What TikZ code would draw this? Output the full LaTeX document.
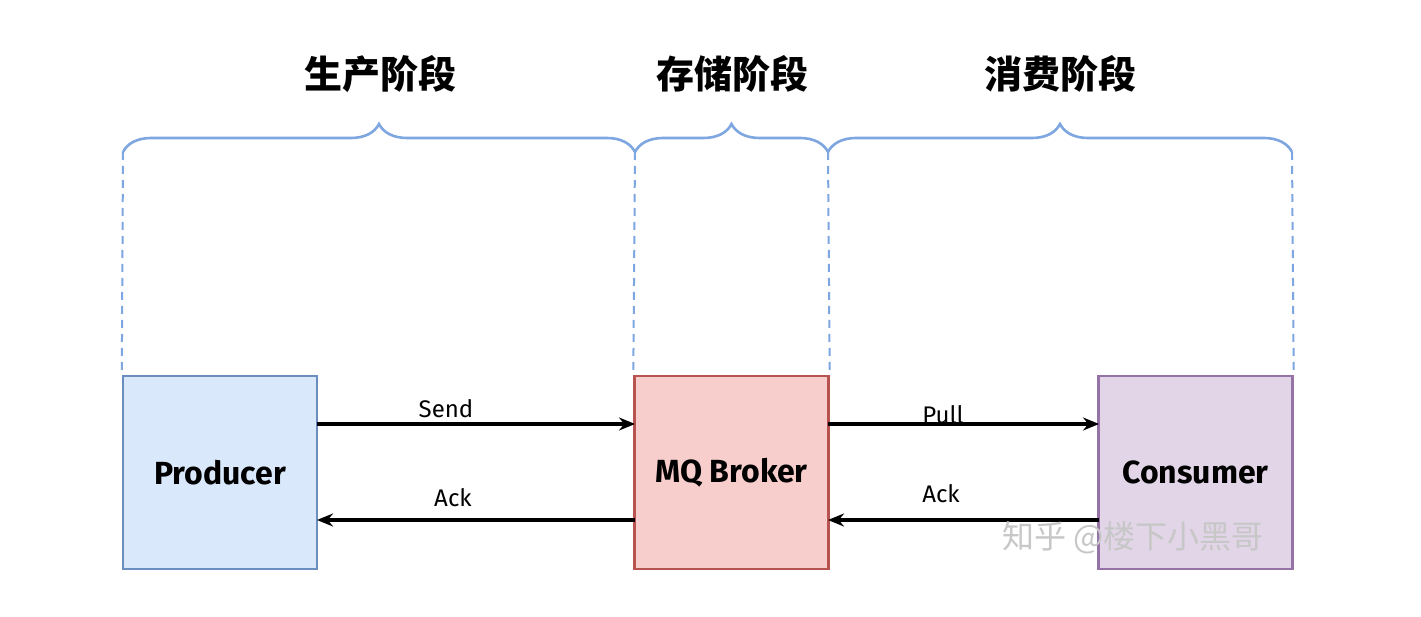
\documentclass[tikz,border=0pt]{standalone}
\usepackage{fontspec}
\setmainfont{Fira Sans}
\newfontfamily\cjk{Noto Sans CJK SC}
\usetikzlibrary{decorations.pathreplacing,arrows.meta}
\definecolor{bracec}{HTML}{7EA6E0}
\definecolor{pfill}{HTML}{DAE8FC}\definecolor{pline}{HTML}{6C8EBF}
\definecolor{bfill}{HTML}{F8CECC}\definecolor{bline}{HTML}{B85450}
\definecolor{cfill}{HTML}{E1D5E7}\definecolor{cline}{HTML}{9673A6}
\tikzset{
  boxn/.style={draw, line width=2.4pt, minimum width=194pt, minimum height=193pt, inner sep=0pt, font=\bfseries\fontsize{32}{34}\selectfont},
  bracen/.style={decorate, decoration={brace, amplitude=28pt}, draw=bracec, line width=2.6pt},
  guide/.style={draw=bracec, line width=2pt, dash pattern=on 8pt off 6pt},
  flow/.style={draw=black, line width=3.4pt, -{Stealth[length=16pt,width=13pt]}},
  lab/.style={font=\fontsize{24}{26}\selectfont, inner sep=1pt},
  title/.style={font=\cjk\bfseries\fontsize{38}{40}\selectfont}
}
\begin{document}
\begin{tikzpicture}[x=1pt,y=-1pt]
\useasboundingbox[fill=white] (0,0) rectangle (1421,617);
% boxes
\node[boxn, fill=pfill, draw=pline] (prod) at (220,472.5) {Producer};
\node[boxn, fill=bfill, draw=bline] (brok) at (731.5,472.5) {MQ Broker};
\node[boxn, fill=cfill, draw=cline] (cons) at (1195.5,472.5) {Consumer};
% guide coordinates
\coordinate (g1) at (123,152); \coordinate (g2) at (635,152);
\coordinate (g3) at (828,152); \coordinate (g4) at (1292,152);
\draw[guide] (g1) -- (prod.north west);
\draw[guide] (g2) -- (brok.north west);
\draw[guide] (g3) -- (brok.north east);
\draw[guide] (g4) -- (cons.north east);
% braces
\draw[bracen] (g1) -- (g2);
\draw[bracen] (g2) -- (g3);
\draw[bracen] (g3) -- (g4);
% titles
\node[title] (t1) at (380,74) {生产阶段};
\node[title] (t2) at (732,74) {存储阶段};
\node[title] (t3) at (1060,74) {消费阶段};
% arrows
\coordinate (ps) at (317,424); \coordinate (bs) at (635,424);
\coordinate (pa) at (317,520); \coordinate (ba) at (635,520);
\coordinate (bp) at (828,424); \coordinate (cp) at (1099,424);
\coordinate (bb) at (828,520); \coordinate (cb) at (1099,520);
\draw[flow] (ps) -- (bs);
\draw[flow] (ba) -- (pa);
\draw[flow] (bp) -- (cp);
\draw[flow] (cb) -- (bb);
\node[lab] (l1) at (446,409) {Send};
\node[lab] (l2) at (453,498) {Ack};
\node[lab] (l3) at (943,415) {Pull};
\node[lab] (l4) at (941,494) {Ack};
% watermark
\node[font=\cjk\fontsize{32}{34}\selectfont, text=black!22] (wm) at (1133,538) {知乎 @楼下小黑哥};
\end{tikzpicture}
\end{document}
